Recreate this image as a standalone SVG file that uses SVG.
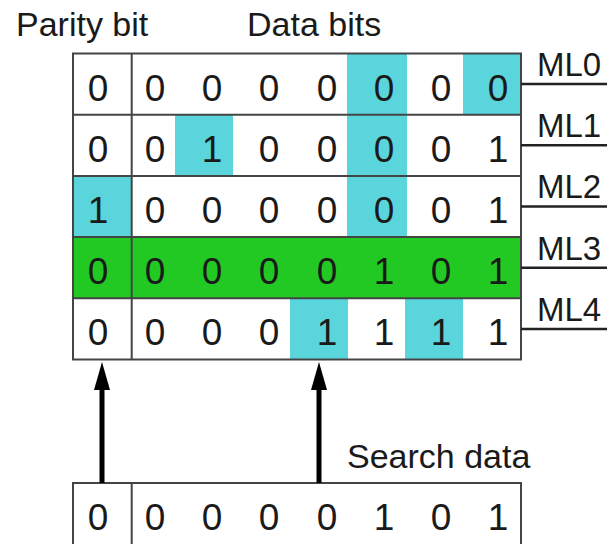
<svg xmlns="http://www.w3.org/2000/svg" width="611" height="544" viewBox="0 0 611 544" font-family="'Liberation Sans', Arimo, Arial, Helvetica, Roboto, sans-serif">
<defs>
<style>
.t{font-family:'Liberation Sans',Arimo,Arial,Helvetica,Roboto,sans-serif;fill:#1a1a1a}
.title{font-size:34px}
.d{font-size:37px;text-anchor:middle}
.ml{font-size:33px}
.cy{fill:#5ad5dc}
.gr{fill:#22c922}
.grid{stroke:#444;stroke-width:2;fill:none}
.mline{stroke:#222;stroke-width:2.5}
.arr{stroke:#000;stroke-width:5}
</style>
<marker id="ah" markerUnits="userSpaceOnUse" viewBox="0 0 28 16" refX="0" refY="8" markerWidth="28" markerHeight="16" orient="auto">
<path d="M0,0 L28,8 L0,16 z" fill="#000"/>
</marker>
</defs>
<rect width="611" height="544" fill="#fff"/>

<g id="label-parity"><text class="t title" x="16" y="36">Parity bit</text></g>
<g id="label-data"><text class="t title" x="247" y="36">Data bits</text></g>
<g id="label-search"><text class="t title" x="347" y="468">Search data</text></g>

<g id="table-fills">
<rect class="cy" x="347" y="53.5" width="60" height="183.6"/>
<rect class="cy" x="463" y="53.5" width="58" height="61.2"/>
<rect class="cy" x="175" y="114.7" width="58" height="61.2"/>
<rect class="cy" x="73" y="175.9" width="58.7" height="61.2"/>
<rect class="gr" x="73" y="237.1" width="448" height="61.2"/>
<rect class="cy" x="290" y="298.3" width="58" height="61.2"/>
<rect class="cy" x="405" y="298.3" width="58" height="61.2"/>
</g>

<g id="table-grid">
<rect class="grid" x="73" y="53.5" width="448" height="306"/>
<line class="grid" x1="131.7" y1="53.5" x2="131.7" y2="359.5"/>
<line class="grid" x1="73" y1="114.7" x2="521" y2="114.7"/>
<line class="grid" x1="73" y1="175.9" x2="521" y2="175.9"/>
<line class="grid" x1="73" y1="237.1" x2="521" y2="237.1"/>
<line class="grid" x1="73" y1="298.3" x2="521" y2="298.3"/>
</g>

<g id="row-ML0" class="t d">
<text x="98" y="100.5">0</text><text x="155" y="100.5">0</text><text x="212" y="100.5">0</text><text x="269" y="100.5">0</text><text x="327" y="100.5">0</text><text x="384" y="100.5">0</text><text x="441" y="100.5">0</text><text x="498" y="100.5">0</text>
</g>
<g id="row-ML1" class="t d">
<text x="98" y="161.7">0</text><text x="155" y="161.7">0</text><text x="212" y="161.7">1</text><text x="269" y="161.7">0</text><text x="327" y="161.7">0</text><text x="384" y="161.7">0</text><text x="441" y="161.7">0</text><text x="498" y="161.7">1</text>
</g>
<g id="row-ML2" class="t d">
<text x="98" y="222.9">1</text><text x="155" y="222.9">0</text><text x="212" y="222.9">0</text><text x="269" y="222.9">0</text><text x="327" y="222.9">0</text><text x="384" y="222.9">0</text><text x="441" y="222.9">0</text><text x="498" y="222.9">1</text>
</g>
<g id="row-ML3" class="t d">
<text x="98" y="284.1">0</text><text x="155" y="284.1">0</text><text x="212" y="284.1">0</text><text x="269" y="284.1">0</text><text x="327" y="284.1">0</text><text x="384" y="284.1">1</text><text x="441" y="284.1">0</text><text x="498" y="284.1">1</text>
</g>
<g id="row-ML4" class="t d">
<text x="98" y="345.3">0</text><text x="155" y="345.3">0</text><text x="212" y="345.3">0</text><text x="269" y="345.3">0</text><text x="327" y="345.3">1</text><text x="384" y="345.3">1</text><text x="441" y="345.3">1</text><text x="498" y="345.3">1</text>
</g>

<g id="matchlines">
<line class="mline" x1="521" y1="84.1" x2="607" y2="84.1"/>
<line class="mline" x1="521" y1="145.3" x2="607" y2="145.3"/>
<line class="mline" x1="521" y1="206.5" x2="607" y2="206.5"/>
<line class="mline" x1="521" y1="267.7" x2="607" y2="267.7"/>
<line class="mline" x1="521" y1="328.9" x2="607" y2="328.9"/>
<text class="t ml" x="537" y="76">ML0</text>
<text class="t ml" x="537" y="137.2">ML1</text>
<text class="t ml" x="537" y="198.4">ML2</text>
<text class="t ml" x="537" y="259.6">ML3</text>
<text class="t ml" x="537" y="320.8">ML4</text>
</g>

<g id="search-data">
<rect class="grid" x="73" y="483" width="448" height="64"/>
<line class="grid" x1="131.7" y1="483" x2="131.7" y2="544"/>
<g class="t d">
<text x="98" y="530">0</text><text x="155" y="530">0</text><text x="212" y="530">0</text><text x="269" y="530">0</text><text x="327" y="530">0</text><text x="384" y="530">1</text><text x="441" y="530">0</text><text x="498" y="530">1</text>
</g>
</g>

<g id="connectors">
<line class="arr" x1="102" y1="483" x2="102" y2="390" marker-end="url(#ah)"/>
<line class="arr" x1="319" y1="483" x2="319" y2="390" marker-end="url(#ah)"/>
</g>
</svg>
